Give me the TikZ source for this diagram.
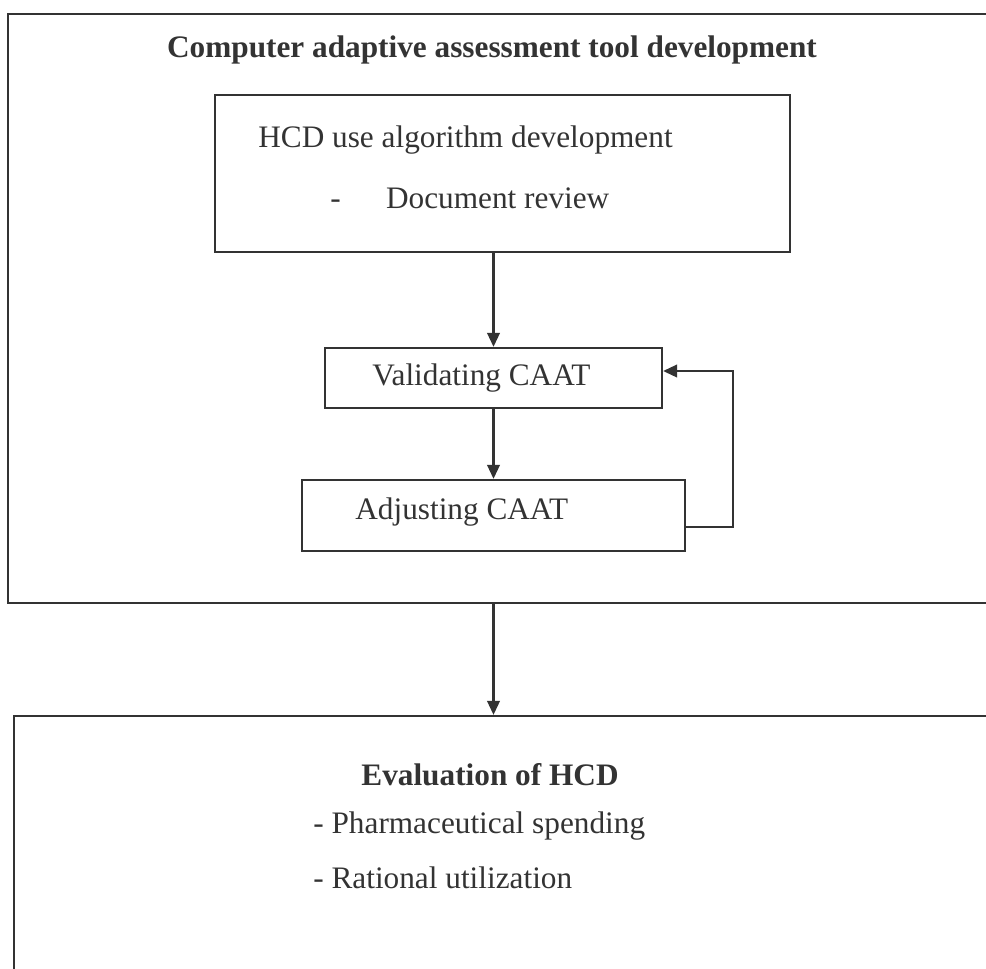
\documentclass[tikz,border=0pt]{standalone}
\usepackage{fontspec}
\setmainfont{Liberation Serif}
\usetikzlibrary{arrows.meta,positioning}
\definecolor{inkgray}{HTML}{333333}

\begin{document}
\begin{tikzpicture}[x=0.02cm,y=-0.02cm,
    box/.style={draw=inkgray,line width=1.3pt,inner sep=0pt},
    txt/.style={inkgray,font=\fontsize{17.8}{21}\selectfont,inner sep=0pt},
    arr/.style={draw=inkgray,line width=1.3pt,-{Triangle[length=2.8mm,width=2.5mm]}}]
  \useasboundingbox (0,0) rectangle (986,968);
  \clip (0,0) rectangle (986,968);

  % Tool development frame
  \node[box,minimum width=19.84cm,minimum height=11.78cm] (outer) at (504,308.5) {};
  \node[txt,font=\fontsize{17.8}{21}\selectfont\bfseries] (title) at (492,50) {Computer adaptive assessment tool development};

  \node[box,minimum width=11.5cm,minimum height=3.14cm] (hcd) at (502.5,173.5) {};
  \node[txt,anchor=west] (hcdtext) at (258,140) {HCD use algorithm development};
  \node[txt,anchor=west] (hcdrev) at (330,198) {-\hspace{1.45em}Document review};

  \node[box,minimum width=6.74cm,minimum height=1.2cm] (valid) at (493.5,378) {};
  \node[txt] (validtext) at (481.5,378) {Validating CAAT};

  \node[box,minimum width=7.66cm,minimum height=1.42cm] (adjust) at (493.5,515.5) {};
  \node[txt,anchor=west] (adjusttext) at (355,512) {Adjusting CAAT};

  \coordinate (loopA) at (733,527);
  \coordinate (loopB) at (733,371);

  \draw[arr] (valid |- hcd.south) -- (valid.north);
  \draw[arr] (valid.south) -- (adjust.north);
  \draw[arr] (adjust.east |- loopA) -- (loopA) -- (loopB) -- (valid.east |- loopB);

  % Evaluation frame
  \node[box,minimum width=19.72cm,minimum height=5.68cm] (eval) at (507,858) {};
  \node[txt,font=\fontsize{17.8}{21}\selectfont\bfseries] (evaltitle) at (490,775) {Evaluation of HCD};
  \node[txt,anchor=west] (spend) at (313,826) {- Pharmaceutical spending};
  \node[txt,anchor=west] (ratio) at (313,878) {- Rational utilization};

  \draw[arr] (valid |- outer.south) -- (valid |- eval.north);
\end{tikzpicture}
\end{document}
